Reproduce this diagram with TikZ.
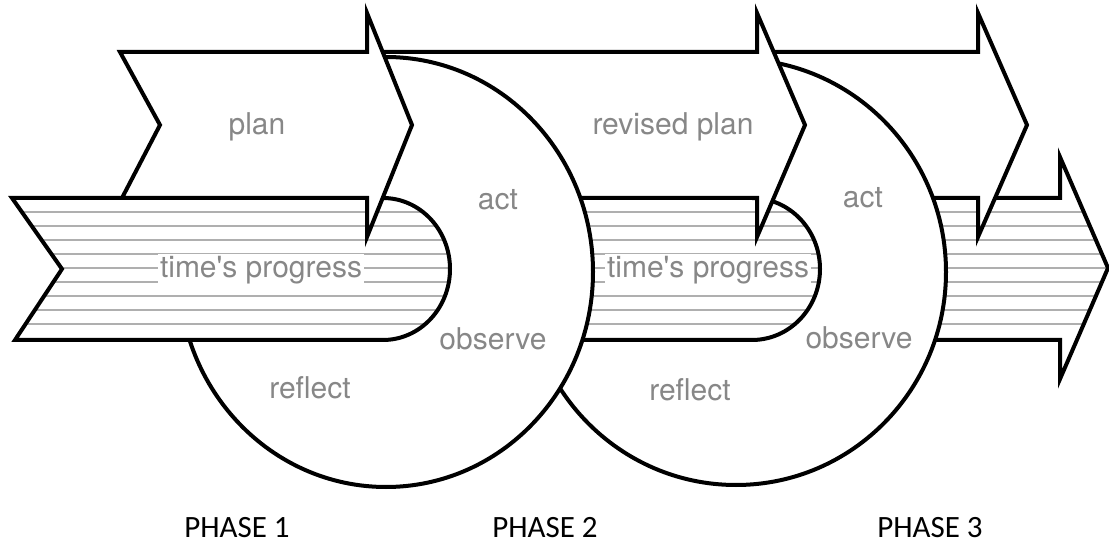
\documentclass[tikz,border=0pt]{standalone}
\usepackage{fontspec}
\newfontfamily\helv{TeX Gyre Heros}
\newfontfamily\calib{Carlito}
\usetikzlibrary{positioning}
\definecolor{labelgray}{RGB}{135,135,135}
\definecolor{hatchgray}{RGB}{175,175,175}
\tikzset{
  outline/.style={draw=black, line width=4pt, fill=white, line join=miter},
  hatch/.style={draw=hatchgray, line width=1.4pt},
  hatched/.style={outline, path picture={
      \foreach \hy in {212,226,...,324} \draw[hatch] (0,\hy) -- (1109,\hy);}},
  lbl/.style={text=labelgray, font=\helv\fontsize{30}{36}\selectfont, inner sep=1pt},
  phase/.style={font=\calib\fontsize{31}{36}\selectfont, anchor=base, inner sep=0pt, text depth=0pt}
}

\begin{document}
\begin{tikzpicture}[x=1pt, y=-1pt]
			\useasboundingbox (0,0) rectangle (1109,545);
			\draw[hatched] (900,198) -- (1060,198) -- (1060,157) -- (1108,268) -- (1060,379) -- (1060,340) -- (900,340) -- cycle;
			\draw[outline] (770,52) -- (978,52) -- (978,13) -- (1027,125) -- (978,237) -- (978,198) -- (770,198) -- cycle;
			\draw[outline] (736,272) ellipse [x radius=210, y radius=213];
			\draw[hatched] (560,198) -- (752,198) arc[start angle=-90, end angle=90, x radius=68, y radius=71] -- (560,340) -- cycle;
			\draw[outline] (375,52) -- (757,52) -- (757,13) -- (805,125) -- (757,237) -- (757,198) -- (375,198) -- cycle;
			\draw[outline] (386,272) ellipse [x radius=207, y radius=215];
			\draw[hatched] (12,198) -- (383,198) arc[start angle=-90, end angle=90, x radius=67, y radius=71] -- (15,340) -- (62,269) -- cycle;
			\draw[outline] (120,52) -- (367,52) -- (367,13) -- (412,125) -- (367,237) -- (367,198) -- (122,198) -- (160,125) -- cycle;
			\node[lbl] (plan) at (257,127) {plan};
			\node[lbl] (rplan) at (673,127) {revised plan};
			\node[lbl, fill=white, inner sep=2pt] (tp1) at (261,270) {time\textquotesingle s progress};
			\node[lbl, fill=white, inner sep=2pt] (tp2) at (708,270) {time\textquotesingle s progress};
			\node[lbl] (act1) at (498,200) {act};
			\node[lbl] (obs1) at (493,339) {observe};
			\node[lbl] (refl1) at (310,388) {reflect};
			\node[lbl] (act2) at (863,198) {act};
			\node[lbl] (obs2) at (859,338) {observe};
			\node[lbl] (refl2) at (690,390) {reflect};
			\node[phase] (ph1) at (237,537) {PHASE 1};
			\node[phase] (ph2) at (545,537) {PHASE 2};
			\node[phase] (ph3) at (930,537) {PHASE 3};
		\end{tikzpicture}
\end{document}
